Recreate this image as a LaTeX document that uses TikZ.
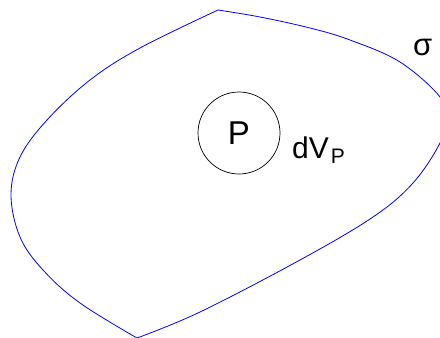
\documentclass[tikz,border=0pt]{standalone}
\usepackage{fontspec}
\setmainfont{Liberation Sans}
\usetikzlibrary{positioning}

\begin{document}
\begin{tikzpicture}[x=1pt, y=-1pt,
    boundary/.style={blue, line width=0.8pt},
    volume/.style={draw, circle, line width=0.7pt, minimum size=82pt, inner sep=0pt,
                   font=\fontsize{33}{33}\selectfont},
    label/.style={inner sep=0pt, anchor=base west}]
  \clip (0,0) rectangle (440,338);

  % Region boundary
  \draw[boundary] plot[smooth, tension=0.6] coordinates {
    (218,10) (260,17) (310,28) (350,40) (400,62) (440,97)
    (445,120) (440,143) (413,183) (373,217) (300,260) (200,312) (137,338)};
  \draw[boundary] plot[smooth, tension=0.6] coordinates {
    (218,10) (140,48) (90,80) (47,120) (20,157) (11,195)
    (20,237) (43,270) (80,303) (137,338)};

  % Volume element
  \node[volume] (P) at (239,133) {P};
  \node[label, font=\fontsize{30}{30}\selectfont] (dV) at (292,158)
    {dV\kern2pt\raisebox{-5pt}{\fontsize{21}{21}\selectfont P}};

  % Surface
  \node[label, font=\fontsize{31}{31}\selectfont] (sigma) at (413,55) {σ};
\end{tikzpicture}
\end{document}
